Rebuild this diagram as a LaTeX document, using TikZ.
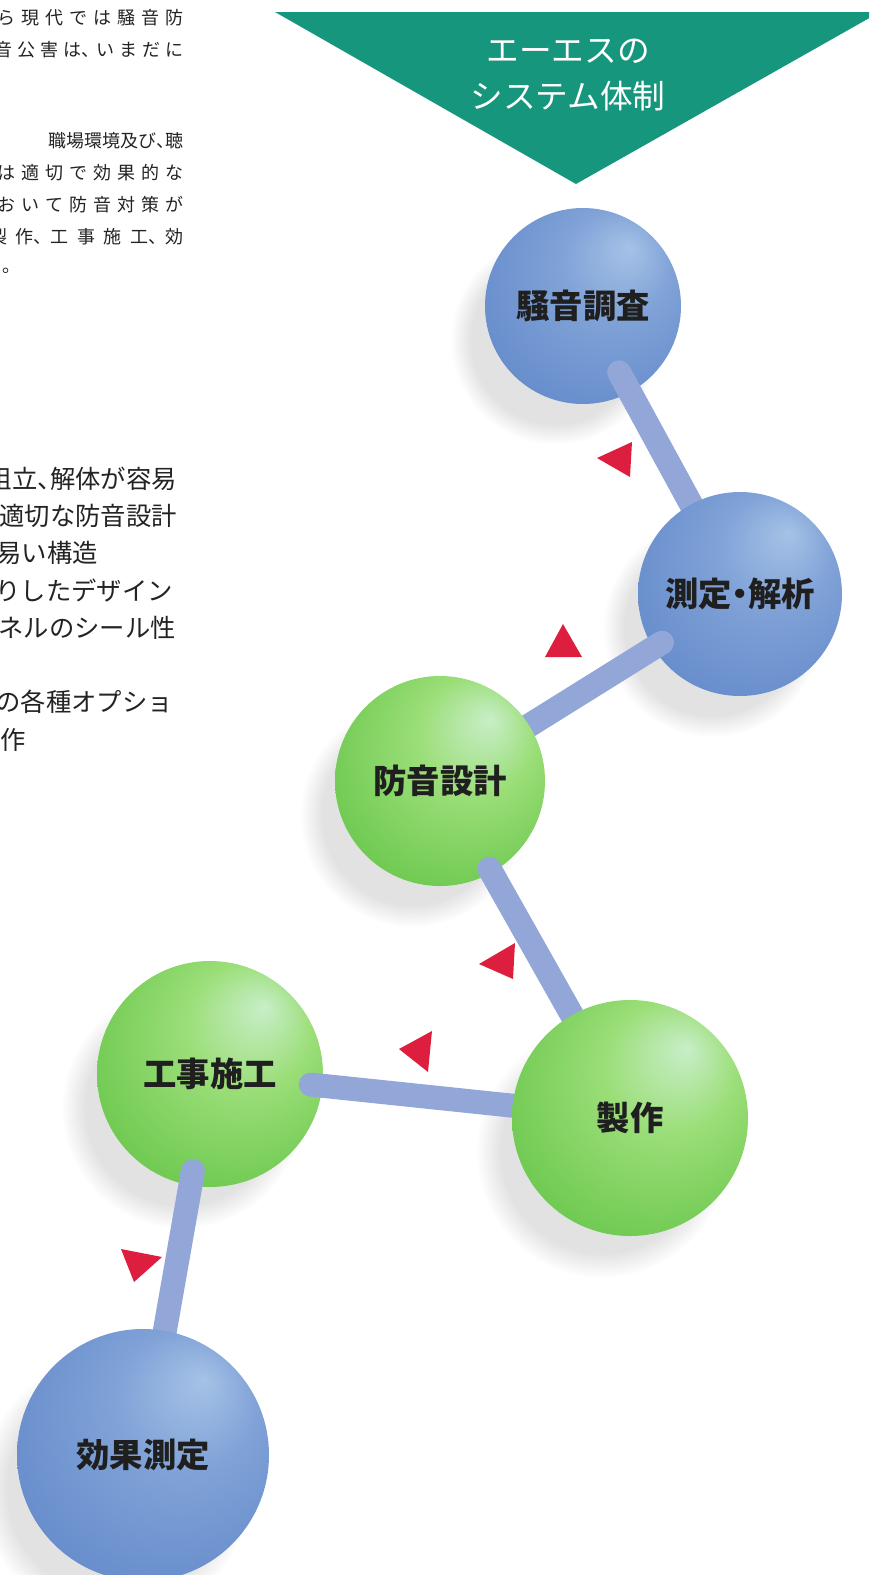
\documentclass[tikz,border=0pt]{standalone}
\usepackage{fontspec}
\newfontfamily\jp[RawFeature=+halt]{Noto Sans CJK JP}
\usetikzlibrary{calc,fadings}

\definecolor{banner}{RGB}{22,150,124}
\definecolor{markred}{RGB}{222,30,62}
\definecolor{rodblue}{RGB}{146,166,215}
\definecolor{haze}{RGB}{140,140,140}
\definecolor{bodytext}{RGB}{35,35,35}
\definecolor{bluehi}{RGB}{165,194,230}
\definecolor{bluemid}{RGB}{128,162,215}
\definecolor{bluebase}{RGB}{104,142,204}
\definecolor{bluedark}{RGB}{74,110,178}
\definecolor{greenhi}{RGB}{200,238,200}
\definecolor{greenmid}{RGB}{155,222,120}
\definecolor{greenbase}{RGB}{112,202,82}
\definecolor{greendark}{RGB}{64,154,52}

% balls lit from the upper right
\pgfdeclareradialshading{bluesphere}{\pgfpoint{12bp}{15bp}}{%
  color(0bp)=(bluehi); color(14bp)=(bluemid); color(32bp)=(bluebase);
  color(47bp)=(bluedark); color(50bp)=(bluedark)}
\pgfdeclareradialshading{greensphere}{\pgfpoint{12bp}{15bp}}{%
  color(0bp)=(greenhi); color(14bp)=(greenmid); color(32bp)=(greenbase);
  color(47bp)=(greendark); color(50bp)=(greendark)}

% justified line of body text
\newcommand\spread[2]{\makebox[#1][s]{#2}}

\begin{document}
\begin{tikzpicture}[x=0.75pt, y=-0.75pt,
  ball/.style={circle, inner sep=0pt, minimum size=#1*1.5pt, shade,
    font=\jp\bfseries\fontsize{25}{25}\selectfont, text=black!88},
  blueball/.style={ball=#1, shading=bluesphere},
  greenball/.style={ball=#1, shading=greensphere},
  rod/.style={line width=18pt, line cap=round, draw=rodblue},
  redmark/.style={fill=markred},
  body/.style={anchor=east, inner sep=0pt, text=bodytext,
    font=\jp\fontsize{13.5}{13.5}\selectfont},
  bodybig/.style={body, font=\jp\fontsize{19}{19}\selectfont}]
  \useasboundingbox (0,0) rectangle (869,1575);
  \clip (0,0) rectangle (869,1575);

  % centres of the balls
  \coordinate (c1) at (583,306);
  \coordinate (c2) at (740,594);
  \coordinate (c3) at (440,781);
  \coordinate (c4) at (630,1118);
  \coordinate (c5) at (210,1074);
  \coordinate (c6) at (143,1455);

  % soft shadows under the balls
  \foreach \c/\r in {c1/98, c2/102, c3/105, c4/118, c5/113, c6/126}
    \fill[haze, opacity=.25, path fading=circle with fuzzy edge 20 percent]
      ($(\c)+(-28,34)$) circle [radius=\r*0.8pt];

  % body text, cut at the left edge
  \node[body] (l1) at (184,18) {\spread{140pt}{ら 現 代 で は 騒 音 防}};
  \node[body] (l2) at (184,50) {\spread{142pt}{音 公 害 は、 い ま だ に}};
  \node[body] (l3) at (184,141) {職場環境及び、聴};
  \node[body] (l4) at (184,173) {\spread{140pt}{は 適 切 で 効 果 的 な}};
  \node[body] (l5) at (184,205) {\spread{140pt}{お い て 防 音 対 策 が}};
  \node[body] (l6) at (184,237) {\spread{146pt}{製 作、 工 事 施 工、 効}};
  \node[body] (l7) at (12,271) {。};

  \node[bodybig] (m1) at (177,479) {組立、解体が容易};
  \node[bodybig] (m2) at (177,516) {適切な防音設計};
  \node[bodybig] (m3) at (98,553) {易い構造};
  \node[bodybig] (m4) at (173,591) {りしたデザイン};
  \node[bodybig] (m5) at (176,628) {ネルのシール性};
  \node[bodybig] (m6) at (173,702) {の各種オプショ};
  \node[bodybig] (m7) at (26,740) {作};

  % heading
  \fill[banner] (275,12) -- (880,12) -- (576,184) -- cycle;
  \node[align=center, text=white, font=\jp\fontsize{24.5}{35}\selectfont]
    (title) at (568,75) {エーエスの\\システム体制};

  % balls and rods, back to front
  \node[blueball=98] (s1) at (c1) {騒音調査};
  \draw[rod] ($(c1)!0.23!(c2)$) -- (c2);
  \node[blueball=102] (s2) at (c2) {測定・解析};
  \draw[rod] ($(c2)!0.26!(c3)$) -- (c3);
  \node[greenball=105] (s3) at (c3) {防音設計};
  \draw[rod] ($(c3)!0.26!(c4)$) -- (c4);
  \node[greenball=113] (s5) at (c5) {工事施工};
  \draw[rod] ($(c5)!0.24!(c4)$) -- (c4);
  \node[greenball=118] (s4) at (c4) {製作};
  \draw[rod] ($(c5)!0.255!(c6)$) -- (c6);
  \node[blueball=126] (s6) at (c6) {効果測定};

  % red pointers along the chain
  \fill[redmark] (597,458) -- (632,442) -- (630,477) -- cycle;
  \fill[redmark] (545,657) -- (563,624) -- (582,657) -- cycle;
  \fill[redmark] (479,964) -- (515,943) -- (513,979) -- cycle;
  \fill[redmark] (399,1049) -- (432,1031) -- (428,1072) -- cycle;
  \fill[redmark] (121,1249) -- (162,1257) -- (134,1282) -- cycle;
\end{tikzpicture}
\end{document}
